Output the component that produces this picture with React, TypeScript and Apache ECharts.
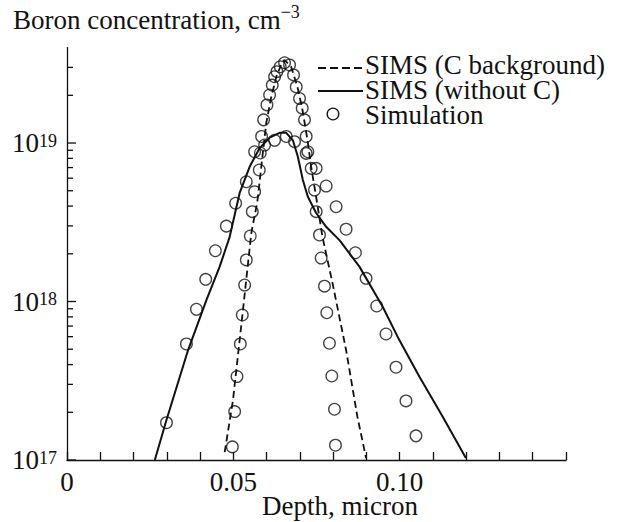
import React, { useEffect, useRef } from "react";
import * as echarts from "echarts";

// ---- data ----
const dashedX = [0.0474, 0.0499, 0.0528, 0.0554, 0.0572, 0.0599, 0.0614, 0.0629, 0.0647, 0.0654, 0.0674, 0.0693, 0.0708, 0.0723, 0.0734, 0.0749, 0.0768, 0.0798, 0.0839, 0.0873, 0.0899];
const dashedY = [1.12e17, 2.39e17, 8.46e17, 2.7e18, 4.24e18, 1.34e19, 1.95e19, 2.61e19, 3.24e19, 3.34e19, 3.02e19, 2.25e19, 1.61e19, 1.04e19, 7.06e18, 4.56e18, 2.55e18, 1.31e18, 4.94e17, 1.87e17, 1.03e17];

const solidX = [0.0264, 0.0299, 0.0364, 0.0419, 0.0459, 0.0489, 0.0519, 0.0549, 0.0579, 0.0609, 0.0639, 0.0659, 0.0679, 0.0694, 0.0709, 0.0724, 0.0749, 0.0779, 0.0819, 0.0879, 0.0949, 0.0999, 0.1059, 0.1129, 0.1199];
const solidY = [1.0e17, 1.79e17, 4.94e17, 1.02e18, 1.66e18, 2.56e18, 4.84e18, 7.08e18, 9.29e18, 1.08e19, 1.16e19, 1.16e19, 1.04e19, 8.2e18, 5.85e18, 4.58e18, 3.62e18, 2.96e18, 2.44e18, 1.66e18, 9.27e17, 5.71e17, 3.36e17, 1.88e17, 1.03e17];

const simNarrowX = [0.0497, 0.0504, 0.0511, 0.0521, 0.0527, 0.0534, 0.0539, 0.0551, 0.0557, 0.0564, 0.0578, 0.0581, 0.0585, 0.0591, 0.0601, 0.0609, 0.0617, 0.0624, 0.0631, 0.0641, 0.0654, 0.0669, 0.0681, 0.0689, 0.0699, 0.0707, 0.0714, 0.0719, 0.0724, 0.0734, 0.0744, 0.0749, 0.0759, 0.0764, 0.0774, 0.0781, 0.0789, 0.0796, 0.0804, 0.0807];
const simNarrowY = [1.21e17, 2.02e17, 3.36e17, 5.4e17, 8.22e17, 1.27e18, 1.83e18, 2.59e18, 3.69e18, 4.93e18, 6.76e18, 8.65e18, 1.1e19, 1.4e19, 1.74e19, 2.01e19, 2.32e19, 2.62e19, 2.82e19, 3.03e19, 3.21e19, 3.11e19, 2.69e19, 2.26e19, 1.91e19, 1.66e19, 1.4e19, 1.1e19, 8.81e18, 6.92e18, 5.05e18, 3.69e18, 2.63e18, 1.88e18, 1.25e18, 8.49e17, 5.45e17, 3.39e17, 2.09e17, 1.24e17];

const simBroadX = [0.0299, 0.0359, 0.0389, 0.0417, 0.0446, 0.0479, 0.0507, 0.0539, 0.0564, 0.0594, 0.0624, 0.0659, 0.0684, 0.0719, 0.0749, 0.0779, 0.0809, 0.0839, 0.0867, 0.0899, 0.0931, 0.0959, 0.0989, 0.1019, 0.1049];
const simBroadY = [1.72e17, 5.4e17, 8.93e17, 1.38e18, 2.09e18, 2.99e18, 4.17e18, 5.7e18, 8.81e18, 9.71e18, 1.04e19, 1.1e19, 1.02e19, 8.6e18, 6.92e18, 5.35e18, 3.96e18, 2.86e18, 2.03e18, 1.4e18, 9.37e17, 6.24e17, 3.85e17, 2.36e17, 1.42e17];

const xLabelValues = [0, 0.05, 0.1];
const xLabelTexts = ["0", "0.05", "0.10"];
const yMajorTicks = [1e17, 1e18, 1e19];
const yMinorTicks = [2e17, 3e17, 4e17, 5e17, 6e17, 7e17, 8e17, 9e17, 2e18, 3e18, 4e18, 5e18, 6e18, 7e18, 8e18, 9e18, 2e19, 3e19];

const titleMain = "Boron concentration, cm";
const titleSup = "−3";
const xName = "Depth, micron";
const legendNames = ["SIMS (C background)", "SIMS (without C)", "Simulation"];

const FONT = "'Liberation Serif', 'Times New Roman', serif";
const INK = "#111";

const zip = (xs: number[], ys: number[]) => xs.map((x, i) => [x, ys[i]]);

export default function App() {
  const ref = useRef<HTMLDivElement>(null);
  useEffect(() => {
    if (!ref.current) return;
    const chart = echarts.init(ref.current, undefined, { renderer: "svg" });
    const tickSeries = (vals: number[], len: number) => ({
      type: "custom",
      silent: true,
      clip: false,
      data: vals.map((v) => [0, v]),
      renderItem: (_p: any, api: any) => {
        const pt = api.coord([0, api.value(1)]);
        return {
          type: "line",
          shape: { x1: pt[0], y1: pt[1], x2: pt[0] + len, y2: pt[1] },
          style: { stroke: INK, lineWidth: 1.3 },
        };
      },
    });
    const circleStyle = { color: "rgba(0,0,0,0)", borderColor: INK, borderWidth: 1.3 };
    chart.setOption({
      animation: false,
      backgroundColor: "#fff",
      grid: { left: 67, top: 47.6, right: 51, bottom: 62, containLabel: false },
      xAxis: {
        type: "value",
        min: 0,
        max: 0.15,
        interval: 0.01,
        axisLine: { lineStyle: { color: INK, width: 1.3 } },
        axisTick: { inside: true, length: 8, lineStyle: { color: INK, width: 1.3 } },
        splitLine: { show: false },
        axisLabel: {
          margin: 8,
          color: INK,
          fontFamily: FONT,
          fontSize: 27,
          formatter: (v: number) => {
            const i = xLabelValues.findIndex((t) => Math.abs(t - v) < 1e-9);
            return i >= 0 ? xLabelTexts[i] : "";
          },
        },
      },
      yAxis: {
        type: "log",
        logBase: 10,
        min: 1e17,
        max: 4e19,
        axisLine: { show: true, lineStyle: { color: INK, width: 1.3 } },
        axisTick: { show: false },
        splitLine: { show: false },
        axisLabel: {
          margin: 10,
          color: INK,
          fontFamily: FONT,
          formatter: (v: number) => {
            const e = Math.log10(v);
            if (Math.abs(e - Math.round(e)) > 1e-6) return "";
            return `{b|10}{s|${Math.round(e)}}`;
          },
          rich: {
            b: { fontSize: 27, lineHeight: 27, fontFamily: FONT, color: INK, verticalAlign: "bottom" },
            s: { fontSize: 18, lineHeight: 18, fontFamily: FONT, color: INK, verticalAlign: "top", padding: [2, 0, 11, 0] },
          },
        },
      },
      graphic: [
        {
          type: "text",
          x: 13,
          y: 3,
          style: {
            text: `{a|${titleMain}}{s|${titleSup}}`,
            align: "left",
            verticalAlign: "top",
            rich: {
              a: { fontSize: 27, lineHeight: 30, fontFamily: FONT, fill: INK, verticalAlign: "bottom" },
              s: { fontSize: 18, lineHeight: 18, fontFamily: FONT, fill: INK, verticalAlign: "top", padding: [0, 0, 20, 0] },
            },
          },
        },
        {
          type: "text",
          x: 340,
          y: 506,
          style: { text: xName, align: "center", verticalAlign: "middle", fontSize: 27, lineHeight: 26, fontFamily: FONT, fill: INK },
        },
        { type: "line", shape: { x1: 318, y1: 68, x2: 363, y2: 68 }, style: { stroke: INK, lineWidth: 1.8, lineDash: [8, 4] } },
        { type: "line", shape: { x1: 318, y1: 91, x2: 363, y2: 91 }, style: { stroke: INK, lineWidth: 2 } },
        { type: "circle", shape: { cx: 333, cy: 114, r: 5.8 }, style: { fill: "none", stroke: INK, lineWidth: 1.3 } },
        {
          type: "text",
          x: 365,
          y: 90,
          style: {
            text: legendNames.join("\n"),
            align: "left",
            verticalAlign: "middle",
            fontSize: 27,
            lineHeight: 25,
            fontFamily: FONT,
            fill: INK,
          },
        },
      ],
      series: [
        tickSeries(yMajorTicks, 9),
        tickSeries(yMinorTicks, 6),
        {
          name: legendNames[0],
          type: "line",
          data: zip(dashedX, dashedY),
          showSymbol: false,
          lineStyle: { color: INK, width: 1.8, type: [7, 4] },
        },
        {
          name: legendNames[1],
          type: "line",
          data: zip(solidX, solidY),
          showSymbol: false,
          lineStyle: { color: INK, width: 2 },
        },
        {
          name: legendNames[2],
          type: "scatter",
          data: zip(simNarrowX, simNarrowY),
          symbol: "circle",
          symbolSize: 11.6,
          itemStyle: circleStyle,
        },
        {
          name: legendNames[2] + " ",
          type: "scatter",
          data: zip(simBroadX, simBroadY),
          symbol: "circle",
          symbolSize: 11.6,
          itemStyle: circleStyle,
        },
      ],
    });
    return () => chart.dispose();
  }, []);
  return <div ref={ref} style={{ position: "fixed", left: 0, top: 0, width: 617, height: 522 }} />;
}
